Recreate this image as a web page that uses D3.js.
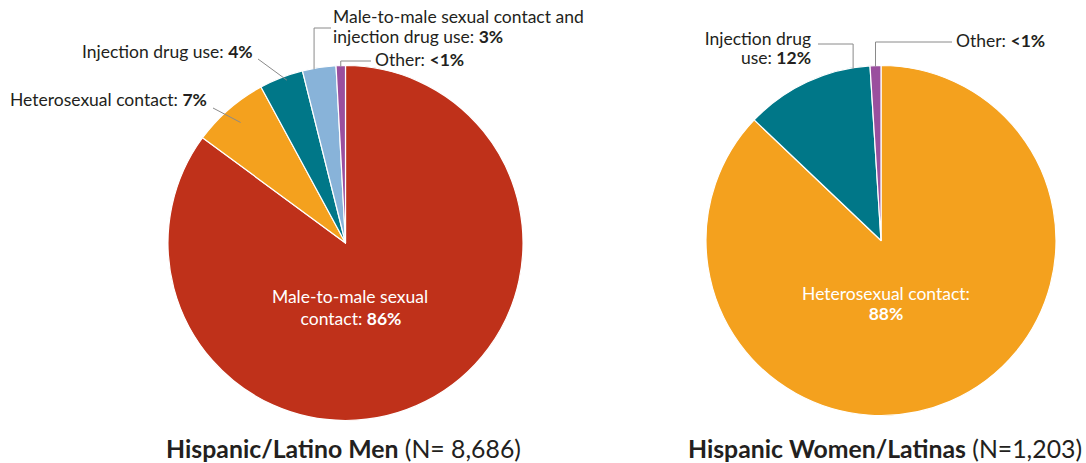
<!DOCTYPE html>
<html><head><meta charset="utf-8">
<script src="https://cdn.jsdelivr.net/npm/d3@7"></script>
<style>
body{margin:0;background:#fff;}
svg{display:block;font-family:Lato,"Open Sans",sans-serif;}
</style></head><body>
<svg id="chart" width="1086" height="463"></svg>
<script>
// ---- data ----
const menCategories = ["Male-to-male sexual contact","Heterosexual contact","Injection drug use","Male-to-male sexual contact and injection drug use","Other"];
const menValues = [85.1, 7.0, 4.0, 3.05, 0.85];
const menLabels = ["86%","7%","4%","3%","<1%"];
const womenCategories = ["Heterosexual contact","Injection drug use","Other"];
const womenValues = [87.1, 11.9, 1.0];
const womenLabels = ["88%","12%","<1%"];
const titles = ["Hispanic/Latino Men","Hispanic Women/Latinas"];
const subtitles = [" (N= 8,686)"," (N=1,203)"];
const colorMap = {
  "Male-to-male sexual contact":"#BF311A",
  "Heterosexual contact":"#F4A11E",
  "Injection drug use":"#007788",
  "Male-to-male sexual contact and injection drug use":"#88B3D9",
  "Other":"#9A4F9E"
};

const svg = d3.select("#chart");
const pie = d3.pie().sort(null).value(d => d.v);
const lineCol = "#8a8a8a";

function drawPie(cats, vals, cx, cy, r) {
  const data = cats.map((c,i)=>({c, v: vals[i]}));
  const arcs = pie(data);
  const g = svg.append("g").attr("transform",`translate(${cx},${cy})`);
  const arc = d3.arc().innerRadius(0).outerRadius(r);
  g.selectAll("path").data(arcs).join("path")
    .attr("d", arc)
    .attr("fill", d => colorMap[d.data.c])
    .attr("stroke","#fff").attr("stroke-width",1.2).attr("stroke-linejoin","round");
  return {g, arcs, r, cx, cy};
}

function pt(a, frac, r) {
  const ang = a.startAngle + (a.endAngle - a.startAngle) * frac;
  return [Math.sin(ang) * r, -Math.cos(ang) * r];
}

function leader(pts) {
  svg.append("path")
    .attr("d", d3.line()(pts))
    .attr("fill","none").attr("stroke",lineCol).attr("stroke-width",1);
}

function label(x, y, parts, anchor, fill, size) {
  const t = svg.append("text").attr("x",x).attr("y",y)
    .attr("text-anchor",anchor||"start").attr("fill",fill||"#231f20")
    .attr("font-size",size||17.5);
  parts.forEach(p => t.append("tspan").attr("font-weight",p[1]?"bold":"normal").text(p[0]));
  return t;
}

// ---- Men pie ----
const M = drawPie(menCategories, menValues, 345.5, 243, 177.5);
{
  const A = M.arcs, cx = M.cx, cy = M.cy, r = M.r;
  let p = pt(A[1], 0.5, r*0.9);
  leader([[213,108],[cx+p[0],cy+p[1]]]);
  label(10,106,[["Heterosexual contact: ",0],[menLabels[1],1]]);
  p = pt(A[2], 0.6, r*0.975);
  leader([[258,59],[cx+p[0],cy+p[1]]]);
  label(82,58,[["Injection drug use: ",0],[menLabels[2],1]]);
  p = pt(A[3], 0.35, r);
  leader([[331,28],[cx+p[0],28],[cx+p[0],cy+p[1]+1]]);
  label(333,23,[["Male-to-male sexual contact and",0]]);
  label(333,43,[["injection drug use: ",0],[menLabels[3],1]]);
  p = pt(A[4], 0.5, r);
  leader([[371,61],[cx+p[0],61],[cx+p[0],cy+p[1]+1]]);
  label(375,66,[["Other: ",0],[menLabels[4],1]]);
  label(350,303,[["Male-to-male sexual",0]],"middle","#fff");
  label(351,325,[["contact: ",0],[menLabels[0],1]],"middle","#fff");
}

// ---- Women pie ----
const W = drawPie(womenCategories, womenValues, 881, 240.5, 175);
{
  const A = W.arcs, cx = W.cx, cy = W.cy, r = W.r;
  let p = pt(A[1], 0.87, r);
  leader([[818,44],[cx+p[0],44],[cx+p[0],cy+p[1]+1]]);
  label(811,45,[["Injection drug",0]],"end");
  label(811,64,[["use: ",0],[womenLabels[1],1]],"end");
  p = pt(A[2], 0.5, r);
  leader([[952,42],[cx+p[0],42],[cx+p[0],cy+p[1]+1]]);
  label(956,47,[["Other: ",0],[womenLabels[2],1]]);
  label(886,300,[["Heterosexual contact:",0]],"middle","#fff");
  label(886,320,[[womenLabels[0],1]],"middle","#fff");
}

// ---- titles ----
[[343.5, titles[0], subtitles[0]],[885, titles[1], subtitles[1]]].forEach(([x,t,s]) => {
  const tx = svg.append("text").attr("x",x).attr("y",458).attr("text-anchor","middle")
    .attr("font-size",24.8).attr("fill","#231f20");
  tx.append("tspan").attr("font-weight","bold").text(t);
  tx.append("tspan").attr("font-weight","normal").text(s);
});
</script>
</body></html>
